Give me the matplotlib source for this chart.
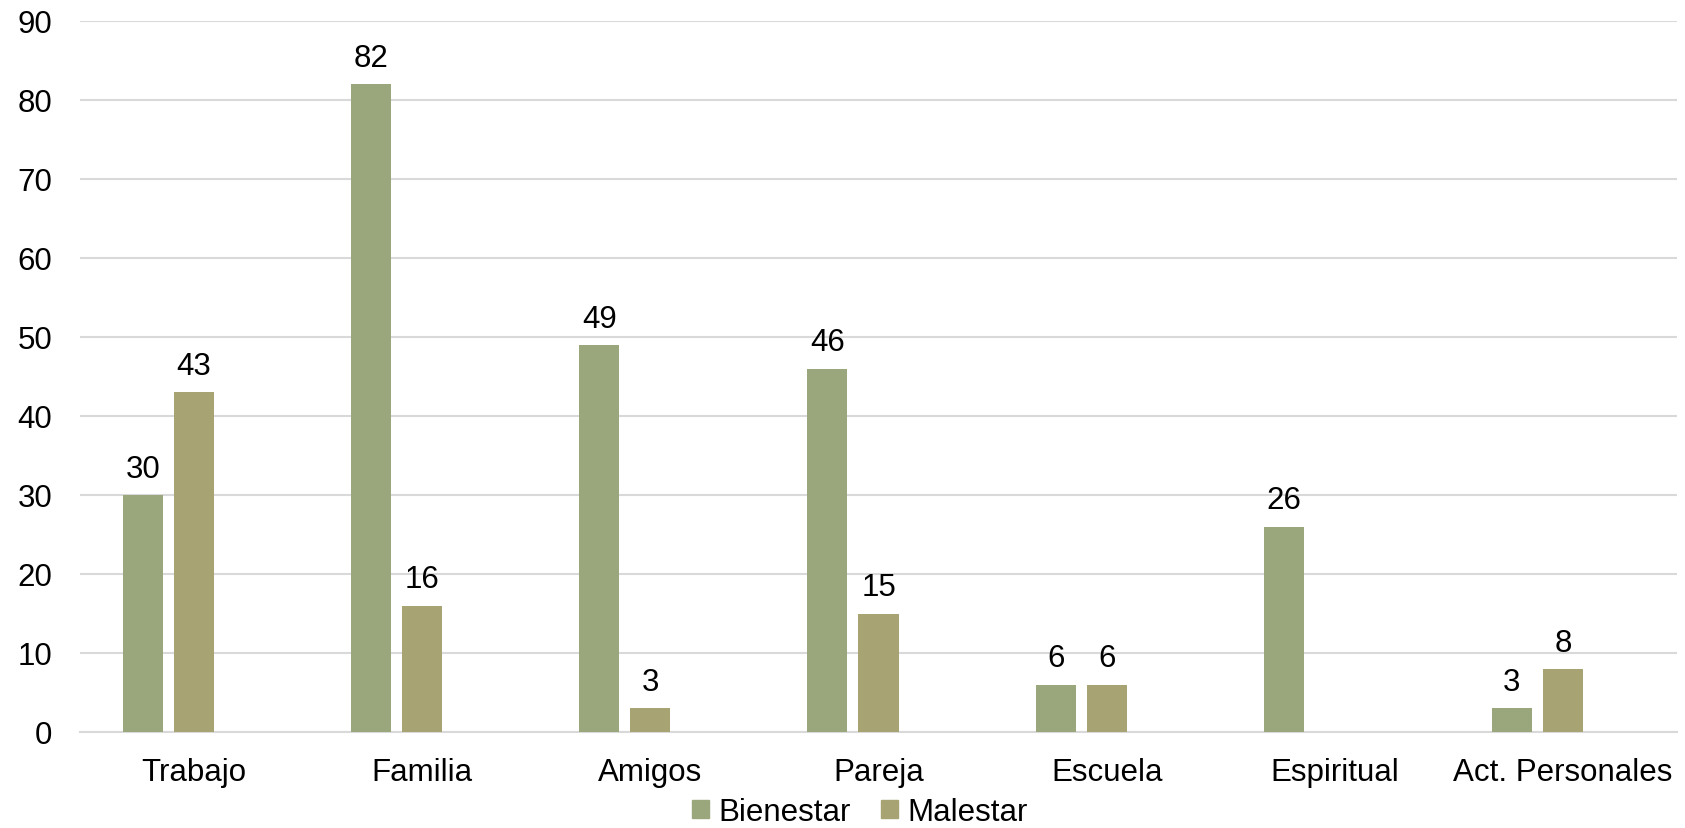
import numpy as np
import matplotlib
matplotlib.use("Agg")
import matplotlib.pyplot as plt
from matplotlib.patches import Patch

categories = ["Trabajo", "Familia", "Amigos", "Pareja", "Escuela", "Espiritual", "Act. Personales"]
bienestar = [30, 82, 49, 46, 6, 26, 3]
malestar = [43, 16, 3, 15, 6, None, 8]
series_names = ["Bienestar", "Malestar"]
yticks = [0, 10, 20, 30, 40, 50, 60, 70, 80, 90]

c_bien = "#9AA67C"
c_mal = "#A8A372"
FS = 22.5

plt.rcParams["font.family"] = ["Liberation Sans", "DejaVu Sans"]

fig = plt.figure(figsize=(16.85, 8.29), dpi=100)
ax = fig.add_axes([80/1685, 1-733/829, (1677-80)/1685, (733-22)/829])

x = np.arange(len(categories))
w = 40/228
off = 51/228

def draw(vals, dx, color):
    for xi, v in zip(x, vals):
        if v is None:
            continue
        ax.bar(xi + dx, v, width=w, color=color, zorder=3)
        ax.annotate(str(v), (xi + dx, v), xytext=(0, 8), textcoords="offset points",
                    ha="center", va="bottom", fontsize=FS, color="#000000")

draw(bienestar, -off, c_bien)
draw(malestar, 0, c_mal)

ax.set_xlim(-0.5, len(categories) - 0.5)
ax.set_ylim(0, 90)
ax.set_yticks(yticks)
ax.set_yticklabels([str(t) for t in yticks])
ax.set_xticks(x)
ax.set_xticklabels(categories)
ax.tick_params(axis="both", length=0, labelsize=FS, colors="#000000")
ax.tick_params(axis="y", pad=20)
ax.tick_params(axis="x", pad=18)
ax.grid(axis="y", color="#D9D9D9", linewidth=1.5, zorder=0)
ax.set_axisbelow(True)
for s in ["left", "right", "top"]:
    ax.spines[s].set_visible(False)
ax.spines["bottom"].set_color("#D9D9D9")
ax.spines["bottom"].set_linewidth(1.5)

handles = [Patch(color=c_bien, label=series_names[0]), Patch(color=c_mal, label=series_names[1])]
fig.legend(handles=handles, loc="center", bbox_to_anchor=(860/1685, 1-813/829), ncol=2,
           frameon=False, fontsize=FS, handlelength=0.55, handleheight=0.55,
           handletextpad=0.3, columnspacing=0.95, borderpad=0)

fig.savefig("out.png", dpi=100)
